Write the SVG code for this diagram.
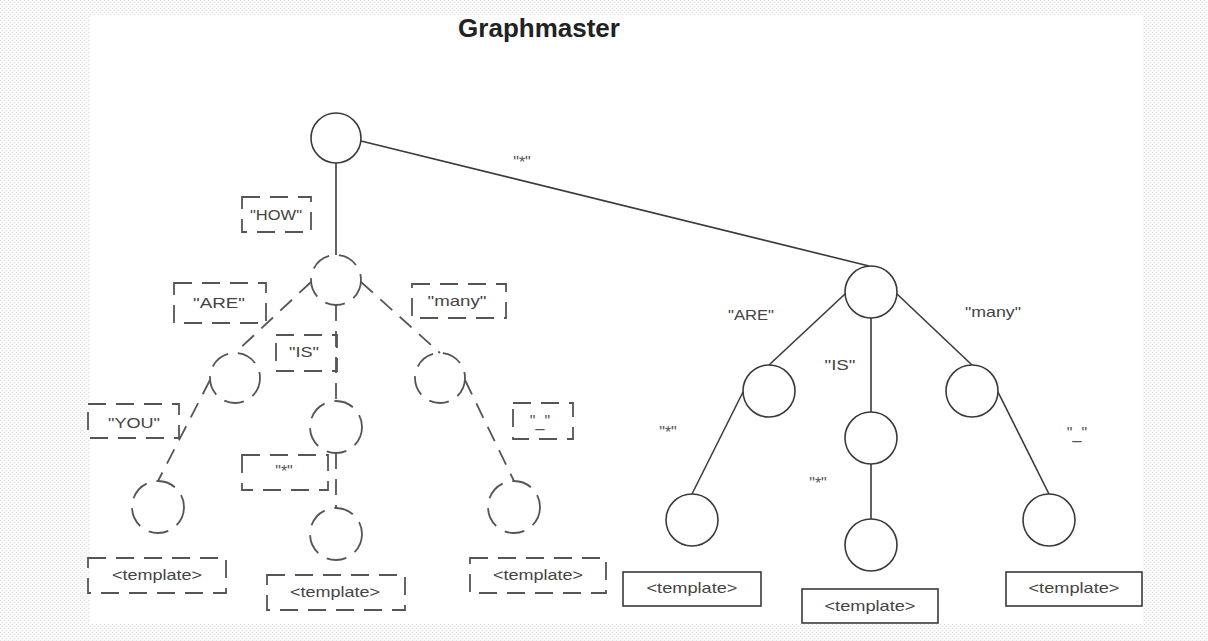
<svg xmlns="http://www.w3.org/2000/svg" width="1208" height="641" viewBox="0 0 1208 641">
<style>
  .node { fill: #ffffff; stroke: #3a3a3a; stroke-width: 1.6; }
  .dnode { fill: none; stroke: #555555; stroke-width: 1.8; stroke-dasharray: 20 10; }
  .edge { stroke: #3a3a3a; stroke-width: 1.6; fill: none; }
  .dedge { stroke: #555555; stroke-width: 1.8; fill: none; stroke-dasharray: 16 10; }
  .dbox { fill: none; stroke: #555555; stroke-width: 1.8; stroke-dasharray: 18 10; }
  .box { fill: #ffffff; stroke: #3a3a3a; stroke-width: 1.6; }
  .lbl { font-family: "Liberation Sans", Arial, sans-serif; font-size: 15px; fill: #444444; text-anchor: middle; }
  .sm { font-family: "Liberation Sans", Arial, sans-serif; font-size: 16px; fill: #555555; text-anchor: middle; }
  .title { font-family: "Liberation Sans", Arial, sans-serif; font-size: 26px; font-weight: bold; fill: #222222; text-anchor: middle; }
</style>
<defs>
  <pattern id="tex" width="4" height="4" patternUnits="userSpaceOnUse">
    <rect width="4" height="4" fill="#f8f8f8"/>
    <rect x="0" y="0" width="1" height="1" fill="#e4e4e4"/>
    <rect x="2" y="2" width="1" height="1" fill="#e9e9e9"/>
  </pattern>
</defs>
<rect x="0" y="0" width="1208" height="641" fill="url(#tex)"/>
<rect x="90" y="15" width="1053" height="609" fill="#ffffff"/>

<text class="title" x="539" y="37">Graphmaster</text>

<g id="connectors">
  <line class="edge" x1="336" y1="163" x2="336" y2="255"/>
  <line class="edge" x1="361" y1="141" x2="869" y2="266"/>
  <line class="dedge" x1="311" y1="282" x2="235" y2="353"/>
  <line class="dedge" x1="336" y1="305" x2="336" y2="401"/>
  <line class="dedge" x1="361" y1="282" x2="440" y2="353"/>
  <line class="dedge" x1="210" y1="380" x2="158" y2="481"/>
  <line class="dedge" x1="336" y1="453" x2="336" y2="508"/>
  <line class="dedge" x1="465" y1="380" x2="514" y2="481"/>
  <line class="edge" x1="845" y1="294" x2="769" y2="365"/>
  <line class="edge" x1="871" y1="318" x2="871" y2="412"/>
  <line class="edge" x1="897" y1="294" x2="972" y2="365"/>
  <line class="edge" x1="743" y1="392" x2="692" y2="494"/>
  <line class="edge" x1="871" y1="464" x2="871" y2="519"/>
  <line class="edge" x1="998" y1="392" x2="1049" y2="494"/>
</g>

<g id="edge-labels">
  <g id="lbl-how"><rect class="dbox" x="242" y="197" width="69" height="35"/><text class="lbl" x="276" y="220" textLength="52" lengthAdjust="spacingAndGlyphs">"HOW"</text></g>
  <g id="lbl-are"><rect class="dbox" x="174" y="283" width="92" height="40"/><text class="lbl" x="219" y="308" textLength="52" lengthAdjust="spacingAndGlyphs">"ARE"</text></g>
  <g id="lbl-many"><rect class="dbox" x="412" y="284" width="94" height="34"/><text class="lbl" x="457" y="306" textLength="59" lengthAdjust="spacingAndGlyphs">"many"</text></g>
  <g id="lbl-is"><rect class="dbox" x="276" y="335" width="61" height="36"/><text class="lbl" x="304" y="357" textLength="30" lengthAdjust="spacingAndGlyphs">"IS"</text></g>
  <g id="lbl-you"><rect class="dbox" x="88" y="404" width="91" height="34"/><text class="lbl" x="134" y="428" textLength="52" lengthAdjust="spacingAndGlyphs">"YOU"</text></g>
  <g id="lbl-star-l"><rect class="dbox" x="242" y="455" width="86" height="35"/><text class="sm" x="284" y="477" font-size="16">"*"</text></g>
  <g id="lbl-under-l"><rect class="dbox" x="513" y="403" width="60" height="36"/><text class="sm" x="540" y="427" font-size="22">"_"</text></g>
  <text id="lbl-star-top" class="sm" x="522" y="168">"*"</text>
  <text id="lbl-are-r" class="lbl" x="751" y="320" textLength="46" lengthAdjust="spacingAndGlyphs">"ARE"</text>
  <text id="lbl-is-r" class="lbl" x="840" y="370" textLength="31" lengthAdjust="spacingAndGlyphs">"IS"</text>
  <text id="lbl-many-r" class="lbl" x="993" y="317" textLength="56" lengthAdjust="spacingAndGlyphs">"many"</text>
  <text id="lbl-star-r1" class="sm" x="668" y="438">"*"</text>
  <text id="lbl-star-r2" class="sm" x="818" y="489">"*"</text>
  <text id="lbl-under-r" class="sm" x="1077" y="439" font-size="18">"_"</text>
</g>

<g id="root"><circle class="node" cx="336" cy="138" r="25"/></g>
<g id="n-how"><circle class="dnode" cx="336" cy="280" r="25"/></g>
<g id="n-how-are"><circle class="dnode" cx="235" cy="378" r="25"/></g>
<g id="n-how-is"><circle class="dnode" cx="336" cy="427" r="26"/></g>
<g id="n-how-many"><circle class="dnode" cx="440" cy="378" r="25"/></g>
<g id="n-how-are-you"><circle class="dnode" cx="158" cy="507" r="26"/></g>
<g id="n-how-is-star"><circle class="dnode" cx="336" cy="534" r="26"/></g>
<g id="n-how-many-under"><circle class="dnode" cx="514" cy="507" r="26"/></g>

<g id="tpl-l1"><rect class="dbox" x="88" y="558" width="138" height="35"/><text class="lbl" x="157" y="580" textLength="90" lengthAdjust="spacingAndGlyphs">&lt;template&gt;</text></g>
<g id="tpl-l2"><rect class="dbox" x="267" y="575" width="138" height="35"/><text class="lbl" x="335" y="597" textLength="90" lengthAdjust="spacingAndGlyphs">&lt;template&gt;</text></g>
<g id="tpl-l3"><rect class="dbox" x="470" y="558" width="136" height="35"/><text class="lbl" x="538" y="580" textLength="90" lengthAdjust="spacingAndGlyphs">&lt;template&gt;</text></g>

<g id="n-star"><circle class="node" cx="871" cy="292" r="26"/></g>
<g id="n-star-are"><circle class="node" cx="769" cy="391" r="26"/></g>
<g id="n-star-is"><circle class="node" cx="871" cy="438" r="26"/></g>
<g id="n-star-many"><circle class="node" cx="972" cy="391" r="26"/></g>
<g id="n-star-are-star"><circle class="node" cx="692" cy="520" r="26"/></g>
<g id="n-star-is-star"><circle class="node" cx="871" cy="545" r="26"/></g>
<g id="n-star-many-under"><circle class="node" cx="1049" cy="520" r="26"/></g>

<g id="tpl-r1"><rect class="box" x="623" y="572" width="138" height="34"/><text class="lbl" x="692" y="593" textLength="91" lengthAdjust="spacingAndGlyphs">&lt;template&gt;</text></g>
<g id="tpl-r2"><rect class="box" x="802" y="589" width="136" height="34"/><text class="lbl" x="870" y="611" textLength="91" lengthAdjust="spacingAndGlyphs">&lt;template&gt;</text></g>
<g id="tpl-r3"><rect class="box" x="1006" y="572" width="136" height="34"/><text class="lbl" x="1074" y="593" textLength="91" lengthAdjust="spacingAndGlyphs">&lt;template&gt;</text></g>
</svg>
